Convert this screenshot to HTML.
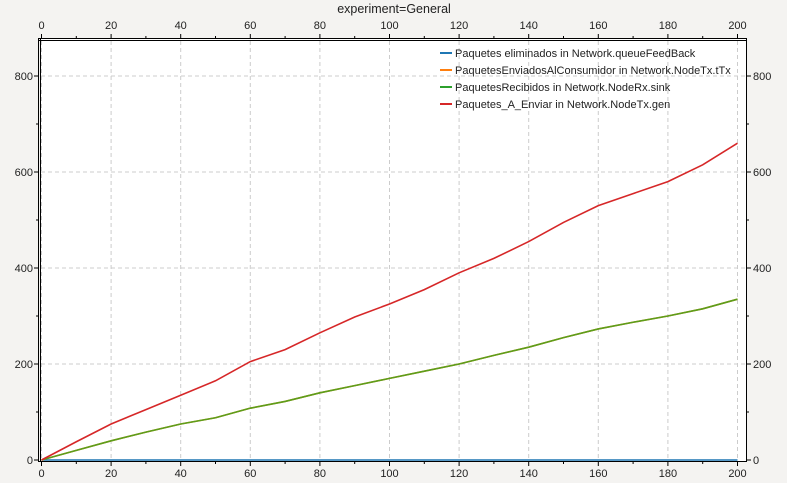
<!DOCTYPE html>
<html><head><meta charset="utf-8"><style>
html,body{margin:0;width:787px;height:483px;overflow:hidden;background:#f4f3f1;font-family:"Liberation Sans",sans-serif}
svg{display:block}
svg text{font-family:"Liberation Sans",sans-serif;font-size:11px;fill:#222}
</style></head><body>
<svg id="chart" width="787" height="483" xmlns="http://www.w3.org/2000/svg">
<rect width="787" height="483" fill="#f4f3f1"/>
<text x="394" y="13" text-anchor="middle" style="font-size:12.5px">experiment=General</text>
<rect x="40" y="39" width="706" height="422" fill="#fff"/>
<g id="grid"></g><g id="axes"></g><g id="series"></g>
<line x1="40.5" y1="38" x2="40.5" y2="462" stroke="#000"/>
<line x1="38.5" y1="38" x2="38.5" y2="462" stroke="#000"/>
<line x1="38" y1="38.5" x2="747" y2="38.5" stroke="#000"/>
<line x1="38" y1="40.5" x2="746" y2="40.5" stroke="#000"/>
<line x1="746.5" y1="38" x2="746.5" y2="462" stroke="#000"/>
<line x1="38" y1="461.5" x2="747" y2="461.5" stroke="#000"/>
<g id="legend"></g>
</svg>
<script>
const xs=[0,10,20,30,40,50,60,70,80,90,100,110,120,130,140,150,160,170,180,190,200];
const received=[0,20,40,58,75,88,108,122,140,155,170,185,200,218,235,255,273,287,300,315,335];
const toSend=[0,38,75,105,135,165,205,230,265,298,325,355,390,420,455,495,530,555,580,615,660];
const dropped=[0,0,0,0,0,0,0,0,0,0,0,0,0,0,0,0,0,0,0,0,0];
const xTicks=[0,20,40,60,80,100,120,140,160,180,200];
const yTicks=[0,200,400,600,800];
const X=v=>41.5+v*(737.5-41.5)/200;
const Y=v=>460-v*0.48;
const NS="http://www.w3.org/2000/svg";
function mk(tag,attrs,parent,txt){const e=document.createElementNS(NS,tag);for(const k in attrs)e.setAttribute(k,attrs[k]);if(txt!==undefined)e.textContent=txt;parent.appendChild(e);return e;}
const grid=document.getElementById('grid'),axes=document.getElementById('axes'),ser=document.getElementById('series'),leg=document.getElementById('legend');
xTicks.forEach(t=>{const x=X(t);
 const g=mk('line',{x1:x,y1:41,x2:x,y2:460,stroke:'#ccc','stroke-dasharray':'4,3'},grid);
 
 
 mk('line',{x1:x,y1:462,x2:x,y2:466,stroke:'#000'},axes);
 mk('line',{x1:x,y1:34,x2:x,y2:38,stroke:'#000'},axes);
 const b=mk('text',{x:x,y:477,'text-anchor':'middle'},axes,t);
 
 
 const tp=mk('text',{x:x,y:29,'text-anchor':'middle'},axes,t);
 
 
});
for(let t=10;t<200;t+=20){const x=X(t);mk('line',{x1:x,y1:462,x2:x,y2:464,stroke:'#000'},axes);mk('line',{x1:x,y1:36,x2:x,y2:38,stroke:'#000'},axes);}
yTicks.forEach(t=>{const y=Y(t);
 if(t>0){const g=mk('line',{x1:41,y1:y,x2:745,y2:y,stroke:'#ccc','stroke-dasharray':'4,3'},grid);
 
 }
 mk('line',{x1:34,y1:y,x2:38,y2:y,stroke:'#000'},axes);
 mk('line',{x1:747,y1:y,x2:751,y2:y,stroke:'#000'},axes);
 const l=mk('text',{x:33,y:y+4,'text-anchor':'end'},axes,t);
 
 
 const r=mk('text',{x:753,y:y+4},axes,t);
 
 
});
for(let t=100;t<900;t+=200){const y=Y(t);mk('line',{x1:36,y1:y,x2:38,y2:y,stroke:'#000'},axes);mk('line',{x1:747,y1:y,x2:749,y2:y,stroke:'#000'},axes);}
const series=[
 {name:'Paquetes eliminados in Network.queueFeedBack',color:'#1f77b4',data:dropped,id:'series-dropped'},
 {name:'PaquetesEnviadosAlConsumidor in Network.NodeTx.tTx',color:'#ff7f0e',data:received,id:'series-sent-consumer'},
 {name:'PaquetesRecibidos in Network.NodeRx.sink',color:'#2ca02c',data:received,id:'series-received'},
 {name:'Paquetes_A_Enviar in Network.NodeTx.gen',color:'#d62728',data:toSend,id:'series-to-send'}];
series.forEach((s,i)=>{
 const pts=xs.map((x,j)=>X(x)+','+Y(s.data[j])).join(' ');
 const c=i===2?'#5a9e1c':s.color;
 const p=mk('polyline',{points:pts,fill:'none',stroke:c,'stroke-width':1.6},ser);
 
 
 const ly=53+i*17;
 const e=mk('g',{},leg);
 
 
 mk('line',{x1:440,y1:ly,x2:452,y2:ly,stroke:s.color,'stroke-width':2},e);
 mk('text',{x:455,y:ly+4,style:'font-size:11px'},e,s.name);
});
</script>
</body></html>
